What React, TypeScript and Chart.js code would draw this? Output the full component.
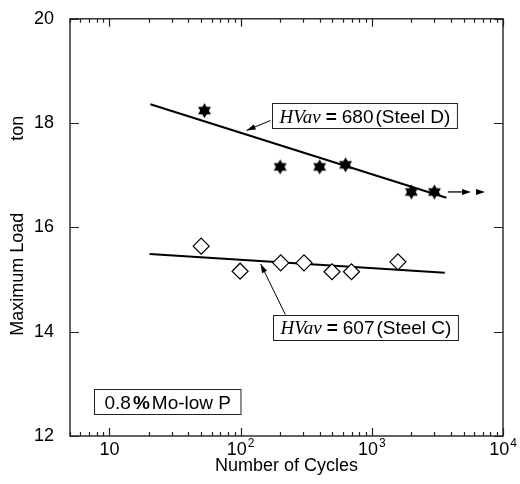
import React, { useEffect, useRef } from 'react';
import { Chart, registerables } from 'chart.js';

Chart.register(...registerables);

// ---- data ----
const steelDCycles = [53, 200, 400, 630, 2000, 3000];
const steelDLoad = [18.24, 17.16, 17.16, 17.2, 16.68, 16.68];
const steelCCycles = [50, 99, 202, 304, 497, 700, 1580];
const steelCLoad = [15.64, 15.16, 15.32, 15.32, 15.15, 15.15, 15.34];
const fitDCycles = [20.5, 3700];
const fitDLoad = [18.36, 16.57];
const fitCCycles = [20.2, 3600];
const fitCLoad = [15.49, 15.13];
const yTickValues = [12, 14, 16, 18, 20];
const xDecades = [10, 100, 1000, 10000];
const xTickBase = ['10', '10', '10', '10'];
const xTickExp = ['', '2', '3', '4'];
const runoutCycles = [3800, 5700, 7300];
const runoutLoad = 16.68;
// annotation boxes (left edge cycles, centre load)
const boxCycles = [172.5, 175, 7.67];
const boxLoads = [18.14, 14.085, 12.654];
const boxHvValues = ['680', '607', ''];
const boxSteelNames = ['(Steel D)', '(Steel C)', ''];
// pointer arrows
const pointerTailCycles = [169, 219];
const pointerTailLoads = [18.05, 14.33];
const pointerTipCycles = [111, 142];
const pointerTipLoads = [17.86, 15.3];
// y axis title parts (text, centre load)
const yTitleParts = ['Maximum Load', 'ton'];
const yTitleLoads = [15.1, 17.9];

const SANS = '"Liberation Sans", Arial, Helvetica, sans-serif';
const SERIF = '"Liberation Serif", "Times New Roman", serif';

function makeStar(r: number) {
  const c = document.createElement('canvas');
  const s = Math.ceil(r * 2 + 2);
  c.width = s;
  c.height = s;
  const g = c.getContext('2d')!;
  const cx = s / 2;
  const cy = s / 2;
  g.fillStyle = '#000';
  for (const off of [-Math.PI / 2, Math.PI / 2]) {
    g.beginPath();
    for (let k = 0; k < 3; k++) {
      const a = off + (k * 2 * Math.PI) / 3;
      const px = cx + r * Math.cos(a);
      const py = cy + r * Math.sin(a);
      if (k) g.lineTo(px, py);
      else g.moveTo(px, py);
    }
    g.closePath();
    g.fill();
  }
  return c;
}

type Run = { text: string; font: string; gap?: number };

function runsWidth(ctx: CanvasRenderingContext2D, runs: Run[]) {
  let w = 0;
  for (const r of runs) {
    ctx.font = r.font;
    w += ctx.measureText(r.text).width + (r.gap || 0);
  }
  return w;
}

function drawRuns(ctx: CanvasRenderingContext2D, runs: Run[], x: number, baseline: number) {
  let cx = x;
  ctx.textAlign = 'left';
  ctx.textBaseline = 'alphabetic';
  for (const r of runs) {
    ctx.font = r.font;
    ctx.fillText(r.text, cx, baseline);
    cx += ctx.measureText(r.text).width + (r.gap || 0);
  }
}

function arrowHead(ctx: CanvasRenderingContext2D, tx: number, ty: number, fx: number, fy: number, len: number, half: number) {
  const a = Math.atan2(ty - fy, tx - fx);
  ctx.beginPath();
  ctx.moveTo(tx, ty);
  ctx.lineTo(tx - len * Math.cos(a) + half * Math.sin(a), ty - len * Math.sin(a) - half * Math.cos(a));
  ctx.lineTo(tx - len * Math.cos(a) - half * Math.sin(a), ty - len * Math.sin(a) + half * Math.cos(a));
  ctx.closePath();
  ctx.fill();
}

const decorPlugin = {
  id: 'decor',
  afterDraw(chart: any) {
    const ctx: CanvasRenderingContext2D = chart.ctx;
    const xs = chart.scales.x;
    const ys = chart.scales.y;
    const { left, right, top, bottom } = chart.chartArea;
    ctx.save();
    // frame
    ctx.strokeStyle = '#222';
    ctx.lineWidth = 1.4;
    ctx.strokeRect(left, top, right - left, bottom - top);
    // x ticks (log) on bottom and top, inward
    ctx.lineWidth = 1.2;
    ctx.beginPath();
    for (let d = 1; d <= 1000; d *= 10) {
      for (let m = 1; m <= 10; m++) {
        const v = m * d;
        if (v < xs.min || v > xs.max) continue;
        const px = Math.round(xs.getPixelForValue(v)) + 0.5;
        const len = m === 1 || m === 10 ? 8 : 4;
        ctx.moveTo(px, bottom);
        ctx.lineTo(px, bottom - len);
        ctx.moveTo(px, top);
        ctx.lineTo(px, top + len);
      }
    }
    // y ticks inward both sides
    for (const v of yTickValues) {
      const py = Math.round(ys.getPixelForValue(v)) + 0.5;
      ctx.moveTo(left, py);
      ctx.lineTo(left + 9, py);
      ctx.moveTo(right, py);
      ctx.lineTo(right - 9, py);
    }
    ctx.stroke();

    // x tick labels with superscripts
    ctx.fillStyle = '#000';
    xDecades.forEach((v, i) => {
      const px = xs.getPixelForValue(v);
      ctx.font = `18px ${SANS}`;
      const wb = ctx.measureText(xTickBase[i]).width;
      ctx.font = `12px ${SANS}`;
      const we = xTickExp[i] ? ctx.measureText(xTickExp[i]).width + 1 : 0;
      const x0 = px - (wb + we) / 2;
      ctx.textAlign = 'left';
      ctx.textBaseline = 'alphabetic';
      ctx.font = `18px ${SANS}`;
      ctx.fillText(xTickBase[i], x0, bottom + 19);
      if (xTickExp[i]) {
        ctx.font = `12px ${SANS}`;
        ctx.fillText(xTickExp[i], x0 + wb + 1, bottom + 11);
      }
    });

    // y axis title
    ctx.font = `18px ${SANS}`;
    ctx.textAlign = 'center';
    ctx.textBaseline = 'middle';
    yTitleParts.forEach((t, i) => {
      ctx.save();
      ctx.translate(18, ys.getPixelForValue(yTitleLoads[i]));
      ctx.rotate(-Math.PI / 2);
      ctx.fillText(t, 0, 0);
      ctx.restore();
    });

    // run-out arrow
    ctx.strokeStyle = '#000';
    ctx.fillStyle = '#000';
    ctx.lineWidth = 1.3;
    const ry = ys.getPixelForValue(runoutLoad);
    const r0 = xs.getPixelForValue(runoutCycles[0]);
    const r1 = xs.getPixelForValue(runoutCycles[1]);
    const r2 = xs.getPixelForValue(runoutCycles[2]);
    ctx.beginPath();
    ctx.moveTo(r0, ry);
    ctx.lineTo(r1 - 6, ry);
    ctx.stroke();
    arrowHead(ctx, r1, ry, r0, ry, 9, 3);
    arrowHead(ctx, r2, ry, r1, ry, 9, 3);

    // pointer arrows
    ctx.lineWidth = 1;
    pointerTipCycles.forEach((c, i) => {
      const tx = xs.getPixelForValue(c);
      const ty = ys.getPixelForValue(pointerTipLoads[i]);
      const fx = xs.getPixelForValue(pointerTailCycles[i]);
      const fy = ys.getPixelForValue(pointerTailLoads[i]);
      ctx.beginPath();
      ctx.moveTo(fx, fy);
      ctx.lineTo(tx, ty);
      ctx.stroke();
      arrowHead(ctx, tx, ty, fx, fy, 9, 2.8);
    });

    // annotation boxes
    const fs = 19;
    boxCycles.forEach((c, i) => {
      let runs: Run[];
      if (boxHvValues[i]) {
        runs = [
          { text: 'HVav', font: `italic ${fs}px ${SERIF}`, gap: 5 },
          { text: '=', font: `bold ${fs}px ${SANS}`, gap: 5 },
          { text: boxHvValues[i], font: `${fs}px ${SANS}`, gap: 2 },
          { text: boxSteelNames[i], font: `${fs}px ${SANS}` },
        ];
      } else {
        runs = [
          { text: '0.8', font: `${fs}px ${SANS}`, gap: 2 },
          { text: '%', font: `bold ${fs}px ${SANS}`, gap: 2 },
          { text: 'Mo-low P', font: `${fs}px ${SANS}` },
        ];
      }
      const bx = Math.round(xs.getPixelForValue(c)) + 0.5;
      const by = ys.getPixelForValue(boxLoads[i]);
      const w = runsWidth(ctx, runs);
      const pad = boxHvValues[i] ? 7 : 10;
      const h = 25;
      ctx.fillStyle = '#fff';
      ctx.fillRect(bx, Math.round(by - h / 2) + 0.5, w + pad * 2, h);
      ctx.strokeStyle = '#222';
      ctx.lineWidth = 1;
      ctx.strokeRect(bx, Math.round(by - h / 2) + 0.5, w + pad * 2, h);
      ctx.fillStyle = '#000';
      drawRuns(ctx, runs, bx + pad, by + fs * 0.36);
    });
    ctx.restore();
  },
};

export default function App() {
  const ref = useRef<HTMLCanvasElement | null>(null);
  useEffect(() => {
    if (!ref.current) return;
    const star = makeStar(7.5);
    const chart = new Chart(ref.current, {
      type: 'scatter',
      data: {
        datasets: [
          {
            label: 'Steel D',
            data: steelDCycles.map((x, i) => ({ x, y: steelDLoad[i] })),
            pointStyle: star as any,
            pointRadius: 7,
            showLine: false,
          },
          {
            label: 'Steel C',
            data: steelCCycles.map((x, i) => ({ x, y: steelCLoad[i] })),
            pointStyle: 'rectRot',
            pointRadius: 8,
            pointBackgroundColor: '#fff',
            pointBorderColor: '#000',
            pointBorderWidth: 1.2,
            showLine: false,
          },
          {
            label: 'Fit D',
            data: fitDCycles.map((x, i) => ({ x, y: fitDLoad[i] })),
            showLine: true,
            borderColor: '#000',
            borderWidth: 2,
            pointRadius: 0,
          },
          {
            label: 'Fit C',
            data: fitCCycles.map((x, i) => ({ x, y: fitCLoad[i] })),
            showLine: true,
            borderColor: '#000',
            borderWidth: 2,
            pointRadius: 0,
          },
        ],
      },
      options: {
        animation: false,
        responsive: false,
        devicePixelRatio: 1,
        events: [],
        layout: { padding: { left: 3, right: 17, top: 14, bottom: 3 } },
        plugins: { legend: { display: false }, tooltip: { enabled: false } },
        scales: {
          x: {
            type: 'logarithmic',
            min: 5,
            max: 10000,
            grid: { display: false },
            border: { display: false },
            ticks: { display: false },
            title: {
              display: true,
              text: 'Number of Cycles',
              color: '#000',
              font: { size: 18, family: SANS },
            },
            afterFit: (s: any) => {
              s.height = 45;
            },
          },
          y: {
            type: 'linear',
            min: 12,
            max: 20,
            grid: { display: false },
            border: { display: false },
            ticks: {
              stepSize: 2,
              color: '#000',
              padding: 8,
              font: { size: 18, family: SANS },
            },
            title: { display: false },
            afterFit: (s: any) => {
              s.width = 67;
            },
          },
        },
      },
      plugins: [decorPlugin],
    });
    return () => chart.destroy();
  }, []);
  return (
    <div style={{ position: 'fixed', left: 0, top: 0, width: 520, height: 484, background: '#fff' }}>
      <canvas ref={ref} width={520} height={484} style={{ width: 520, height: 484 }} />
    </div>
  );
}
